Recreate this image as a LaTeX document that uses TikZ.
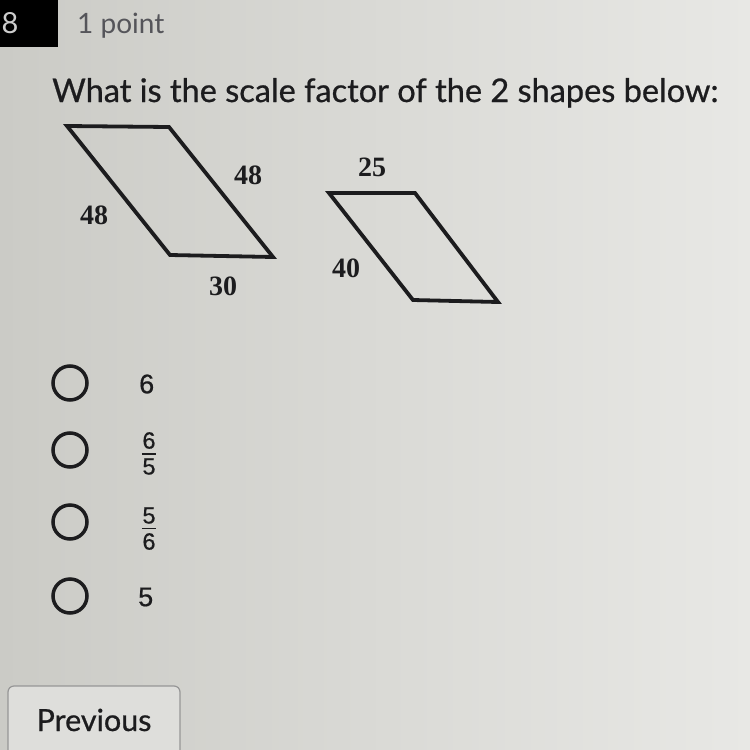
\documentclass[tikz,border=0pt]{standalone}
\usepackage{fontspec}
\setmainfont{Lato}
\newfontfamily\heavylato[FakeBold=0.7]{Lato}
\newfontfamily\serifnum{Liberation Serif}
\newfontfamily\sansnum[FakeBold=0.6]{Liberation Sans}
\definecolor{bgL}{RGB}{203,203,198}
\definecolor{bgR}{RGB}{232,232,229}
\definecolor{ink}{RGB}{28,28,30}
\definecolor{grayink}{RGB}{85,85,90}
\definecolor{btnline}{RGB}{150,150,150}
\tikzset{
  shapeline/.style={draw=ink, line width=3.8pt, line join=miter},
  sidelabel/.style={text=ink, font=\serifnum\bfseries\fontsize{28}{28}\selectfont, inner sep=0pt},
  radio/.style={draw=ink, line width=3.5pt, circle, minimum size=34pt, inner sep=0pt},
  choice/.style={text=ink, font=\sansnum\fontsize{27}{27}\selectfont, inner sep=0pt, anchor=west},
  fracdigit/.style={text=ink, font=\sansnum\fontsize{23.5}{23.5}\selectfont, inner sep=0pt},
  fracbar/.style={draw=ink, line width=1.6pt}
}
\begin{document}
\begin{tikzpicture}[x=1pt,y=-1pt]
\useasboundingbox (0,0) rectangle (750,750);
\shade[left color=bgL, right color=bgR] (0,0) rectangle (750,750);
% header
\fill[black] (0,0) rectangle (58,47);
\node[anchor=base, text={rgb,255:red,205;green,205;blue,205}, font=\fontsize{29}{29}\selectfont, inner sep=0pt] (num) at (10,33) {8};
\node[anchor=base west, text=grayink, font=\fontsize{28}{28}\selectfont, inner sep=0pt] (pts) at (77,33) {1 point};
% title
\node[anchor=base west, text=ink, font=\heavylato\fontsize{32.5}{32.5}\selectfont, inner sep=0pt] (title) at (52,102) {What is the scale factor of the 2 shapes below:};
% big parallelogram
\coordinate (a1) at (67,126);
\coordinate (a2) at (169,127);
\coordinate (a3) at (273,257);
\coordinate (a4) at (170,255);
\draw[shapeline] (a1) -- (a2) -- (a3) -- (a4) -- cycle;
\node[sidelabel] (la) at (248,175) {48};
\node[sidelabel] (lb) at (94,215) {48};
\node[sidelabel] (lc) at (223,286) {30};
% small parallelogram
\coordinate (b1) at (329,193);
\coordinate (b2) at (415,193);
\coordinate (b3) at (498,302);
\coordinate (b4) at (413,300);
\draw[shapeline] (b1) -- (b2) -- (b3) -- (b4) -- cycle;
\node[sidelabel] (ld) at (372,167) {25};
\node[sidelabel] (le) at (346,268) {40};
% choices
\node[radio] (r1) at (70,383) {};
\node[radio] (r2) at (70,450) {};
\node[radio] (r3) at (70,522) {};
\node[radio] (r4) at (70,596) {};
\node[choice] (c1) at (139,384) {6};
\node[fracdigit] (c2t) at (149,440.5) {6};
\node[fracdigit] (c2b) at (149,466.5) {5};
\draw[fracbar] ([xshift=-0.5pt]c2b.west |- 0,454) -- ([xshift=0.5pt]c2b.east |- 0,454);
\node[fracdigit] (c3t) at (149,515.5) {5};
\node[fracdigit] (c3b) at (149,541.5) {6};
\draw[fracbar] ([xshift=-0.5pt]c3b.west |- 0,528.5) -- ([xshift=0.5pt]c3b.east |- 0,528.5);
\node[choice] (c4) at (138,597) {5};
% previous button
\draw[draw=btnline, line width=1.2pt, fill={rgb,255:red,222;green,222;blue,219}, rounded corners=6pt] (8,686) rectangle (180,762);
\node[anchor=base, text=ink, font=\heavylato\fontsize{30.5}{30.5}\selectfont, inner sep=0pt] (prev) at (94,731) {Previous};
\end{tikzpicture}
\end{document}
